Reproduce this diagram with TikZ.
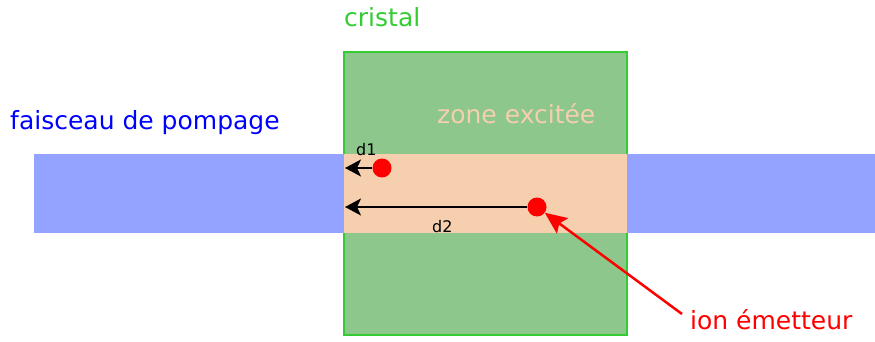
\documentclass[tikz,border=0pt]{standalone}
\usepackage{fontspec}
\setmainfont{DejaVu Sans}
\usetikzlibrary{arrows.meta}

\definecolor{vertfond}{HTML}{8DC78C}
\definecolor{vertbord}{HTML}{33CC33}
\definecolor{bleupompe}{HTML}{94A3FF}
\definecolor{peche}{HTML}{F5CFAE}

\tikzset{
  grandtexte/.style={anchor=base west, inner sep=0pt, font=\fontsize{25}{30}\selectfont},
  petittexte/.style={anchor=base west, inner sep=0pt, font=\fontsize{16}{19}\selectfont},
  ion/.style={circle, fill=red, inner sep=0pt, minimum size=19pt},
  fleched/.style={line width=2pt, -{Stealth[length=16pt, width=17pt, inset=4pt]}},
}

\begin{document}
\begin{tikzpicture}[x=1pt, y=-1pt]
    \useasboundingbox (0,0) rectangle (875,342);

    % cristal
    \node[draw=vertbord, fill=vertfond, line width=2.5pt, minimum width=283pt,
      minimum height=283pt, inner sep=0pt] (cristal) at (485.5,193.5) {};

    % faisceau de pompage et zone excitee
    \fill[bleupompe] (34,154) rectangle (875,233);
    \fill[peche] (344,154) rectangle (627,233);

    % textes
    \node[grandtexte, text=vertbord] (titrecristal) at (344,27) {cristal};
    \node[grandtexte, text=blue] (titrefaisceau) at (10,130) {faisceau de pompage};
    \node[grandtexte, text=peche] (titrezone) at (437,124) {zone excitée};
    \node[grandtexte, text=red] (titreion) at (690,329) {ion émetteur};

    % ions et distances au bord
    \node[ion] (ion1) at (382,168) {};
    \node[ion] (ion2) at (537,207) {};
    \coordinate (bord1) at (345,168);
    \coordinate (bord2) at (345,207);
    \draw[fleched] (ion1) -- (bord1);
    \draw[fleched] (ion2) -- (bord2);
    \node[petittexte] (d1) at (356,156) {d1};
    \node[petittexte] (d2) at (432,232) {d2};

    % fleche rouge
    \coordinate (queue) at (682,314);
    \draw[red, line width=2.5pt, -{Stealth[length=22pt, width=19pt, inset=4pt]}]
      (queue) -- (ion2);
  \end{tikzpicture}
\end{document}
